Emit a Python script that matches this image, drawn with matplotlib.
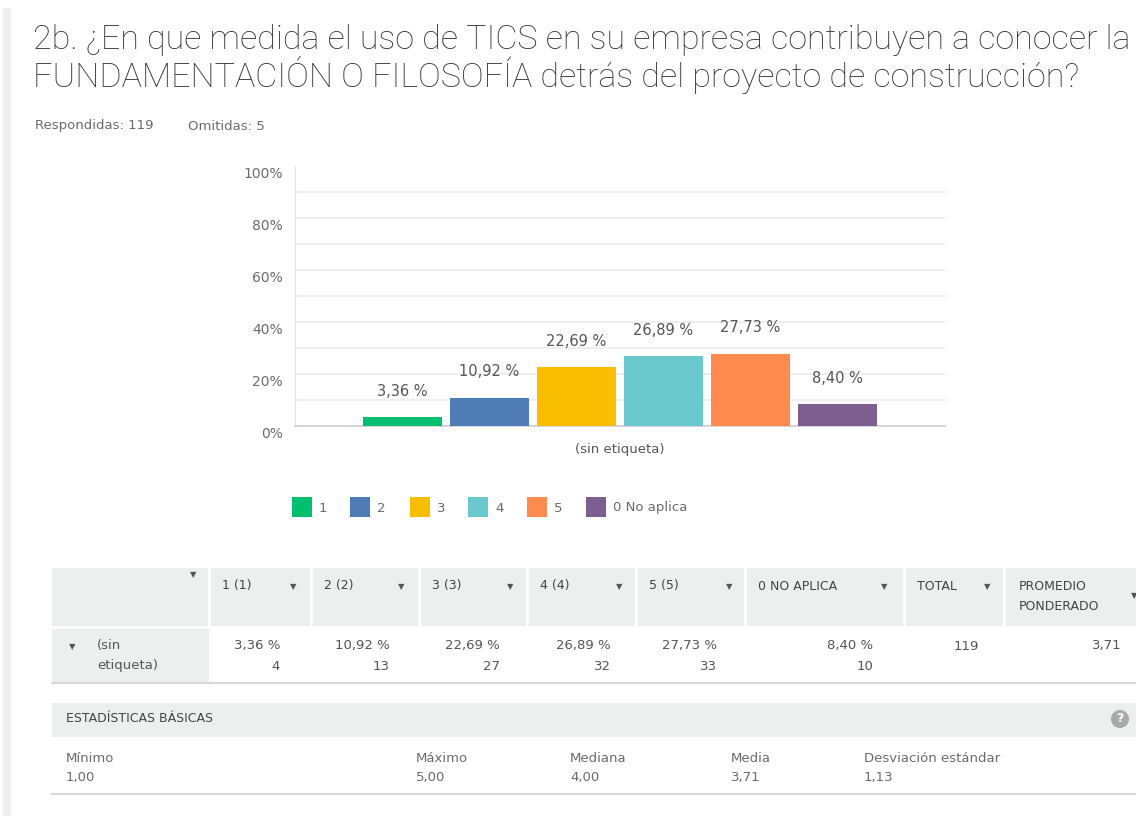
import matplotlib.pyplot as plt
from matplotlib.patches import Rectangle, Circle
from matplotlib.transforms import ScaledTranslation

plt.rcParams["font.family"] = ["DejaVu Sans"]

# Data
title_lines = ["2b. ¿En que medida el uso de TICS en su empresa contribuyen a conocer la",
               "FUNDAMENTACIÓN O FILOSOFÍA detrás del proyecto de construcción?"]
categories = ["1", "2", "3", "4", "5", "0 No aplica"]
percents = [3.36, 10.92, 22.69, 26.89, 27.73, 8.40]
counts = [4, 13, 27, 32, 33, 10]
colors = ["#00BF6F", "#507CB6", "#F9BE00", "#6BC8CD", "#FF8B4F", "#7D5E90"]
col_headers = ["1 (1)", "2 (2)", "3 (3)", "4 (4)", "5 (5)", "0 NO APLICA", "TOTAL"]
total = 119
omitted = 5
weighted_avg = "3,71"
stat_names = ["Mínimo", "Máximo", "Mediana", "Media", "Desviación estándar"]
stat_values = ["1,00", "5,00", "4,00", "3,71", "1,13"]


def fmt(v):
    return f"{v:.2f}".replace(".", ",") + " %"


W, H = 1136, 816
fig = plt.figure(figsize=(W / 100, H / 100), dpi=100)
fig.patch.set_facecolor("white")

# background axes in pixel coordinates
bg = fig.add_axes([0, 0, 1, 1])
bg.set_xlim(0, W)
bg.set_ylim(H, 0)
bg.axis("off")

# left border strip
bg.add_patch(Rectangle((3, 8), 8, H, color="#efefef", lw=0))

# title
for yy, line in zip([40, 75], title_lines):
    bg.text(33, yy, line, fontsize=24.5, color="#333333", va="center", ha="left",
            fontweight="light", family=["Roboto", "DejaVu Sans"])
bg.text(35, 126, f"Respondidas: {total}", fontsize=9.5, color="#6b6b6b", va="center")
bg.text(188, 126, f"Omitidas: {omitted}", fontsize=9.5, color="#6b6b6b", va="center")

# bar chart
ax = fig.add_axes([295 / W, 1 - 426 / H, 650 / W, 260 / H])
x = list(range(len(categories)))
ax.bar(x, percents, width=0.9, color=colors, zorder=3)
for xi, p in zip(x, percents):
    ax.annotate(fmt(p), (xi, p), xytext=(0, 26), textcoords="offset pixels",
                ha="center", va="center", fontsize=10.5, color="#555555")
ax.set_xlim(-1.235, len(categories) - 1 + 1.235)
ax.set_ylim(0, 100)
ax.set_yticks([0, 20, 40, 60, 80, 100])
ax.set_yticklabels(["0%", "20%", "40%", "60%", "80%", "100%"], fontsize=10, color="#6b6b6b")
ax.tick_params(axis="y", which="both", length=0, pad=9)
for lab in ax.get_yticklabels():
    lab.set_transform(lab.get_transform() + ScaledTranslation(0, -0.07, fig.dpi_scale_trans))
ax.set_xticks([])
for gy in range(10, 100, 10):
    ax.axhline(gy, color="#eeeeee", lw=1.4, zorder=0)
for s in ["top", "right"]:
    ax.spines[s].set_visible(False)
ax.spines["left"].set_color("#e2e2e2")
ax.spines["bottom"].set_color("#d4d4d4")
ax.spines["bottom"].set_linewidth(1.4)
ax.set_xlabel("(sin etiqueta)", fontsize=9.5, color="#555555", labelpad=12)

# legend
leg_x = [292, 350, 410, 468, 527, 586]
for lx, c, cat in zip(leg_x, colors, categories):
    bg.add_patch(Rectangle((lx, 497), 20, 20, color=c, lw=0))
    bg.text(lx + 27, 508, cat, fontsize=9.5, color="#6b6b6b", va="center")

# table header
bg.add_patch(Rectangle((52, 568), W - 52, 59, color="#edeeee", lw=0))
bg.add_patch(Rectangle((52, 627), 157, 56, color="#edeeee", lw=0))
col_edges = [209, 311, 419, 527, 636, 745, 904, 1004]
for ce in col_edges:
    bg.plot([ce, ce], [568, 627], color="white", lw=2)
bg.plot([52, W], [627, 627], color="white", lw=2)
bg.plot([52, W], [683, 683], color="#d8d8d8", lw=1.5)
bg.text(193, 575, "▼", fontsize=6, color="#555555", ha="center", va="center")
arrow_x = [293, 401, 510, 619, 729, 884, 987]
for ce, h, axx in zip(col_edges, col_headers, arrow_x):
    bg.text(ce + 13, 586, h, fontsize=9, color="#444444", va="center")
    bg.text(axx, 587, "▼", fontsize=6, color="#555555", ha="center", va="center")
bg.text(1019, 586, "PROMEDIO", fontsize=9, color="#444444", va="center")
bg.text(1019, 607, "PONDERADO", fontsize=9, color="#444444", va="center")
bg.text(1134, 596, "▼", fontsize=6, color="#555555", ha="center", va="center")

# data row
bg.text(72, 647, "▼", fontsize=6, color="#555555", ha="center", va="center")
bg.text(97, 646, "(sin", fontsize=9.5, color="#555555", va="center")
bg.text(97, 666, "etiqueta)", fontsize=9.5, color="#555555", va="center")
value_right = [280, 390, 500, 611, 717, 873]
for vr, p, n in zip(value_right, percents, counts):
    bg.text(vr, 646, fmt(p), fontsize=9.5, color="#555555", va="center", ha="right")
    bg.text(vr, 666, str(n), fontsize=9.5, color="#555555", va="center", ha="right")
bg.text(966, 646, str(total), fontsize=9.5, color="#555555", va="center", ha="center")
bg.text(1122, 646, weighted_avg, fontsize=9.5, color="#555555", va="center", ha="right")

# basic statistics
bg.add_patch(Rectangle((52, 703), W - 52, 34, color="#edeeee", lw=0))
bg.text(66, 719, "ESTADÍSTICAS BÁSICAS", fontsize=9, color="#444444", va="center")
bg.add_patch(Circle((1120, 719), 9, color="#a9a9a9", lw=0))
bg.text(1120, 719, "?", fontsize=9, color="white", ha="center", va="center", fontweight="bold")
stat_x = [66, 416, 570, 731, 864]
for sx, nm, val in zip(stat_x, stat_names, stat_values):
    bg.text(sx, 758, nm, fontsize=9.5, color="#6b6b6b", va="center")
    bg.text(sx, 777, val, fontsize=9.5, color="#6b6b6b", va="center")
bg.plot([52, W], [794, 794], color="#d8d8d8", lw=1.5)

fig.savefig("out.png", dpi=100)
